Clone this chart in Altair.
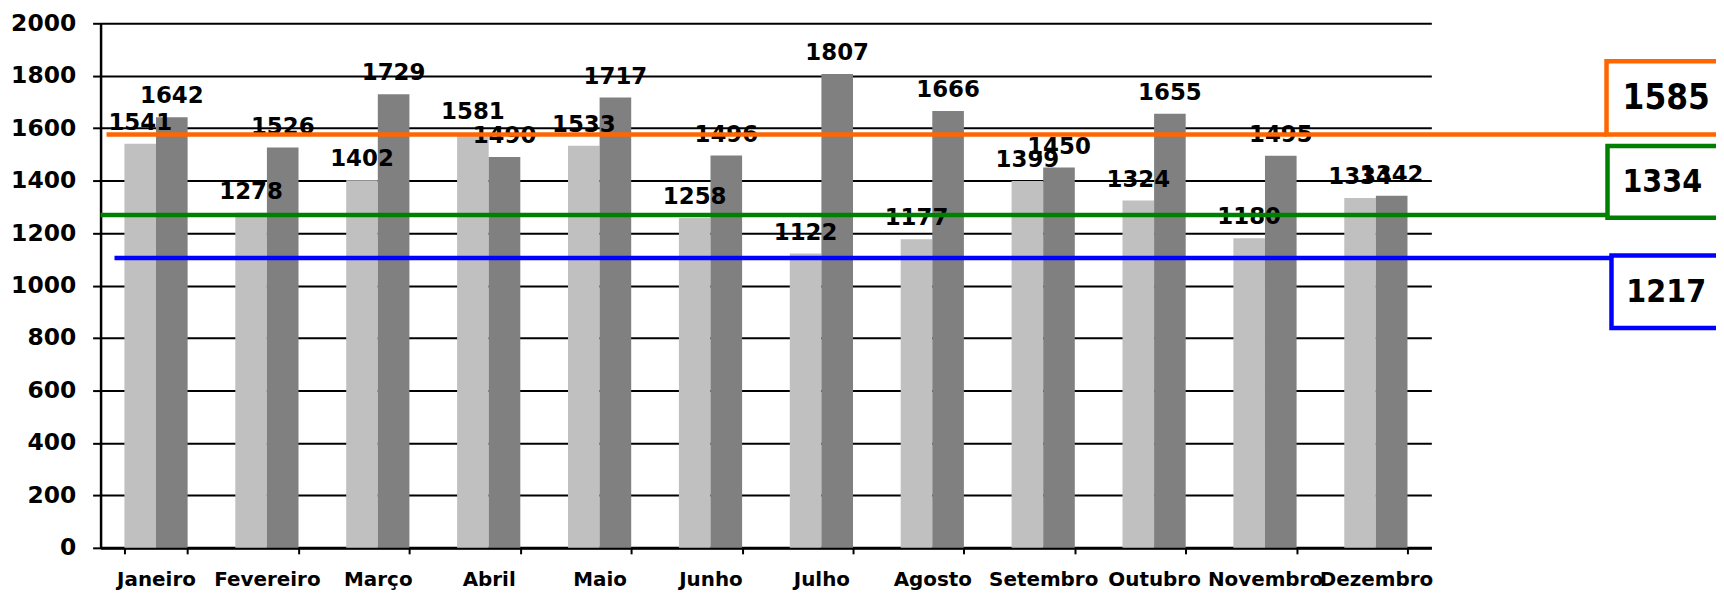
import altair as alt
import pandas as pd

# ---------------- data ----------------
months = ["Janeiro", "Fevereiro", "Março", "Abril", "Maio", "Junho",
          "Julho", "Agosto", "Setembro", "Outubro", "Novembro", "Dezembro"]
serie_clara = [1541, 1278, 1402, 1581, 1533, 1258, 1122, 1177, 1399, 1324, 1180, 1334]
serie_escura = [1642, 1526, 1729, 1490, 1717, 1496, 1807, 1666, 1450, 1655, 1495, 1342]
series_names = ["Série 1", "Série 2"]

# reference lines (level where drawn) and their boxed labels
ref_labels = ["1585", "1334", "1217"]
ref_levels = [1576, 1269, 1105]
ref_box_low = [1576, 1259, 838]
ref_box_high = [1855, 1532, 1115]
y_ticks = [0, 200, 400, 600, 800, 1000, 1200, 1400, 1600, 1800, 2000]

# ---------------- styles ----------------
ref_colors = ["#FF6600", "#008000", "#0000FF"]
line_x_start = [6, 0, 14]
box_x_left = [1513, 1514, 1518]
text_x = [1573, 1569, 1573]
text_size = [35, 32, 32]
box_font = "Liberation Sans Narrow, DejaVu Sans Condensed, Roboto Condensed, Roboto, sans-serif"

W, H = 1337, 527

rows = []
for i, m in enumerate(months):
    rows.append({"month": m, "series": series_names[0], "value": serie_clara[i]})
    rows.append({"month": m, "series": series_names[1], "value": serie_escura[i]})
df = pd.DataFrame(rows)

x_enc = alt.X("month:N", sort=months,
              scale=alt.Scale(paddingInner=0.43, paddingOuter=0.215),
              axis=alt.Axis(title=None, labelAngle=0, tickBand="extent",
                            labelOverlap=False, labelBound=False,
                            labelFont="DejaVu Sans", labelFontWeight="bold",
                            labelFontSize=20, labelColor="black",
                            labelPadding=16, tickSize=6, tickWidth=2,
                            tickColor="black", domainColor="black",
                            domainWidth=3, grid=False))
y_enc = alt.Y("value:Q",
              scale=alt.Scale(domain=[0, 2000], nice=False),
              axis=alt.Axis(title=None, values=y_ticks, format="d",
                            labelFont="DejaVu Sans", labelFontWeight="bold",
                            labelFontSize=23.5, labelColor="black",
                            labelPadding=17, tickSize=8, tickWidth=2,
                            tickColor="black", domainColor="black",
                            domainWidth=2.5, grid=True, gridColor="black",
                            gridWidth=2))
xo_enc = alt.XOffset("series:N", sort=series_names,
                     scale=alt.Scale(paddingInner=0, paddingOuter=0))

bars = alt.Chart(df).mark_bar().encode(
    x=x_enc, y=y_enc, xOffset=xo_enc,
    color=alt.Color("series:N", scale=alt.Scale(domain=series_names,
                    range=["#C0C0C0", "#808080"]), legend=None),
)

labels = alt.Chart(df).mark_text(
    dy=-21, baseline="middle", font="DejaVu Sans", fontWeight="bold",
    fontSize=23, color="black"
).encode(x=alt.X("month:N", sort=months), y="value:Q", xOffset=xo_enc,
         text=alt.Text("value:Q", format="d"))

layers = [bars, labels]
for i in range(3):
    ld = pd.DataFrame({"level": [ref_levels[i]]})
    bd = pd.DataFrame({"low": [ref_box_low[i]], "high": [ref_box_high[i]],
                       "mid": [(ref_box_low[i] + ref_box_high[i]) / 2],
                       "label": [ref_labels[i]]})
    layers.append(alt.Chart(ld).mark_rule(color=ref_colors[i], strokeWidth=4.5).encode(
        x=alt.value(line_x_start[i]), x2=alt.value(box_x_left[i]),
        y=alt.Y("level:Q")))
    layers.append(alt.Chart(bd).mark_rect(fill="white", stroke=ref_colors[i],
                                          strokeWidth=4.5).encode(
        x=alt.value(box_x_left[i]), x2=alt.value(box_x_left[i] + 220),
        y=alt.Y("high:Q"), y2=alt.Y2("low:Q")))
    layers.append(alt.Chart(bd).mark_text(
        font=box_font, fontWeight="bold", fontSize=text_size[i],
        color="black", baseline="middle", align="center").encode(
        x=alt.value(text_x[i]), y=alt.Y("mid:Q"), text="label:N"))

chart = alt.layer(*layers).properties(
    width=W, height=H,
    autosize=alt.AutoSizeParams(type="none"),
    padding={"left": 93, "top": 14, "right": 286, "bottom": 44},
    background="white",
).configure_view(strokeWidth=0)

chart.save("out.html", embed_options={"renderer": "svg", "actions": False})
